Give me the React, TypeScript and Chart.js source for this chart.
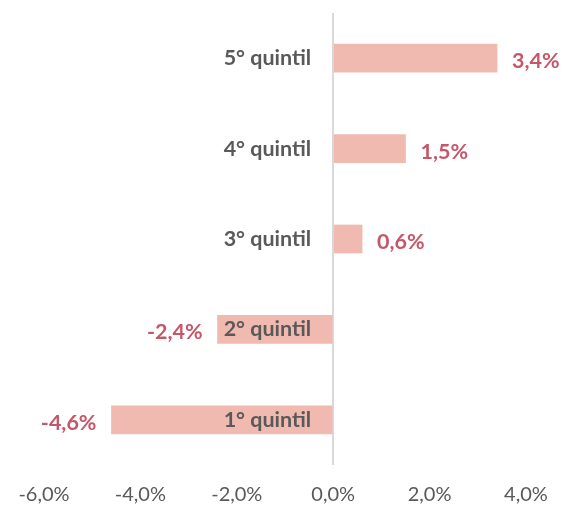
import React, { useEffect, useRef } from "react";
import { Chart, registerables } from "chart.js";

Chart.register(...registerables);

const categories = ["5° quintil", "4° quintil", "3° quintil", "2° quintil", "1° quintil"];
const values = [3.4, 1.5, 0.6, -2.4, -4.6];
const axisMin = -6;
const axisMax = 4;
const axisStep = 2;

const FONT = "Lato, 'Open Sans', sans-serif";
const fmt = (v: number) => v.toFixed(1).replace(".", ",") + "%";

const labelPlugin = {
  id: "labelPlugin",
  afterDatasetsDraw(chart: any) {
    const { ctx, scales } = chart;
    const xs = scales.x;
    const ys = scales.y;
    const zero = xs.getPixelForValue(0);
    ctx.save();
    ctx.textBaseline = "middle";
    categories.forEach((c, i) => {
      const y = ys.getPixelForValue(i);
      ctx.font = `bold 21.5px ${FONT}`;
      ctx.fillStyle = "#595959";
      ctx.textAlign = "right";
      ctx.fillText(c, zero - 22, y);
      const v = values[i];
      const xe = xs.getPixelForValue(v);
      ctx.fillStyle = "#C5576A";
      if (v >= 0) {
        ctx.textAlign = "left";
        ctx.fillText(fmt(v), xe + 15, y + 3);
      } else {
        ctx.textAlign = "right";
        ctx.fillText(fmt(v), xe - 15, y + 3);
      }
    });
    ctx.restore();
  },
};

export default function App() {
  const ref = useRef<HTMLCanvasElement>(null);
  useEffect(() => {
    document.documentElement.style.overflow = "hidden";
    if (!ref.current) return;
    const chart = new Chart(ref.current, {
      type: "bar",
      data: {
        labels: categories,
        datasets: [
          {
            data: values,
            backgroundColor: "#F1BAB1",
            borderWidth: 0,
            barThickness: 28,
          },
        ],
      },
      options: {
        indexAxis: "y",
        animation: false,
        responsive: true,
        maintainAspectRatio: false,
        layout: { padding: { left: 36, right: 41, top: 5, bottom: 0 } },
        plugins: { legend: { display: false }, tooltip: { enabled: false } },
        scales: {
          x: {
            min: axisMin,
            max: axisMax,
            afterFit: (s: any) => {
              s.height = 43;
              s.paddingLeft = 0;
              s.paddingRight = 0;
            },
            ticks: {
              stepSize: axisStep,
              color: "#595959",
              font: { family: FONT, size: 20 },
              padding: 18,
              callback: (v: any) => fmt(Number(v)),
            },
            grid: {
              color: (c: any) => (c.tick && c.tick.value === 0 ? "#D9D9D9" : "rgba(0,0,0,0)"),
              lineWidth: 2,
              drawTicks: false,
            },
            border: { display: false },
          },
          y: {
            display: false,
          },
        },
      },
      plugins: [labelPlugin],
    });
    return () => chart.destroy();
  }, []);
  return (
    <div style={{ width: 559, height: 500 }}>
      <canvas ref={ref} />
    </div>
  );
}
